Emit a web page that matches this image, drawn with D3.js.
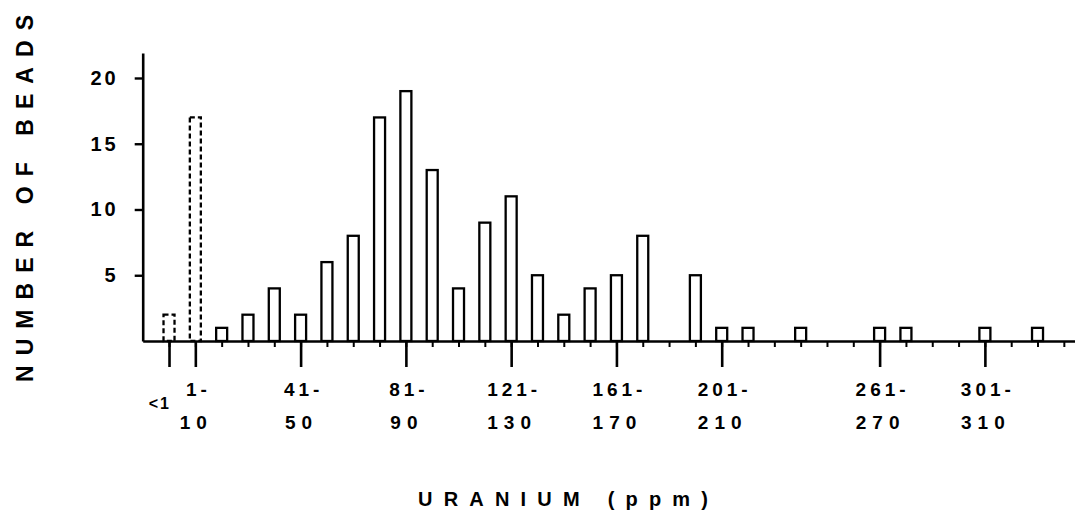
<!doctype html>
<html lang="en">
  <head>
    <meta charset="utf-8">
    <title>uranium beads</title>
    <style>
      body {
        margin: 0;
        background: #fff;
      }

      .axis {
        font-family: "Liberation Sans", Arial, sans-serif;
        font-weight: bold;
      }

      .axis path,
      .axis line {
        fill: none;
        stroke: #000;
      }

      .axis path.domain {
        stroke-width: 2.6;
      }

      .axis--x .tick line {
        stroke-width: 2;
      }

      .axis--major .tick line {
        stroke-width: 2.6;
      }

      .axis--y .tick line {
        stroke-width: 2.4;
      }

      .axis--y text {
        font-size: 20px;
        letter-spacing: 3px;
      }

      .bar {
        fill: #fff;
        stroke: #000;
        stroke-width: 2.3;
      }

      .bar--dashed {
        stroke-dasharray: 5, 3;
      }

      .lbl {
        font-family: "Liberation Sans", Arial, sans-serif;
        font-weight: bold;
        font-size: 19px;
        fill: #000;
      }

      .title {
        font-family: "Liberation Sans", Arial, sans-serif;
        font-weight: bold;
        fill: #000;
      }
    </style>
  </head>
  <body>
    <div class="chart"></div>
  <script src="https://d3js.org/d3.v7.min.js"></script>
  <script>
    // bins of uranium content (ppm)
    const bins = ['<1', '1-10', '11-20', '21-30', '31-40', '41-50', '51-60', '61-70', '71-80',
      '81-90', '91-100', '101-110', '111-120', '121-130', '131-140', '141-150', '151-160',
      '161-170', '171-180', '181-190', '191-200', '201-210', '211-220', '221-230', '231-240',
      '241-250', '251-260', '261-270', '271-280', '281-290', '291-300', '301-310', '311-320',
      '321-330', '331-340'];

    // number of beads in each bin
    const counts = [2, 17, 1, 2, 4, 2, 6, 8, 17, 19, 13, 4, 9, 11, 5, 2, 4, 5, 8, 0, 5,
      1, 1, 0, 1, 0, 0, 1, 1, 0, 0, 1, 0, 1, 0];

    // bins drawn dashed
    const dashedBins = ['<1', '1-10'];

    // labelled bins and their two-line labels
    const labelledBins = ['1-10', '41-50', '81-90', '121-130', '161-170', '201-210', '261-270', '301-310'];
    const labelTop = ['1-', '41-', '81-', '121-', '161-', '201-', '261-', '301-'];
    const labelBottom = ['10', '50', '90', '130', '170', '210', '270', '310'];

    const yTicks = [5, 10, 15, 20];

    const width = 1075;
    const height = 521;

    const data = bins.map((b, i) => ({bin: b, idx: i, value: counts[i]}));

    const xScale = d3.scaleLinear()
        .domain([-1, 34.5])
        .range([142.7, 1077]);

    const yScale = d3.scaleLinear()
        .domain([0, 21.9])
        .range([341, 53]);

    const svg = d3.select('.chart').append('svg')
        .attr('width', width)
        .attr('height', height);

    function drawBars(el) {
      el.append('g')
          .attr('class', 'bars-g')
        .selectAll('.bar')
        .data(data.filter(d => d.value > 0))
        .enter()
        .append('rect')
          .attr('class', d => dashedBins.includes(d.bin) ? 'bar bar--dashed' : 'bar')
          .attr('x', d => xScale(d.idx) - 5.5)
          .attr('width', 11)
          .attr('y', d => yScale(d.value))
          .attr('height', d => yScale(0) - yScale(d.value));
    }

    function drawXAxis(el) {
      // minor ticks at every bin
      el.append('g')
          .attr('class', 'axis axis--x')
          .attr('transform', `translate(0,${yScale(0)})`)
          .call(d3.axisBottom(xScale)
            .tickValues(data.map(d => d.idx))
            .tickSize(6)
            .tickSizeOuter(0)
            .tickFormat(''));

      // long ticks for labelled bins
      const majors = [0].concat(labelledBins.map(b => bins.indexOf(b)));
      const major = el.append('g')
          .attr('class', 'axis axis--x axis--major')
          .attr('transform', `translate(0,${yScale(0)})`)
          .call(d3.axisBottom(xScale)
            .tickValues(majors)
            .tickSize(26)
            .tickSizeOuter(0)
            .tickFormat(''));
      major.select('.domain').remove();

      const labels = el.append('g');
      labels.selectAll('.lbl-top')
        .data(labelledBins)
        .enter()
        .append('text')
          .attr('class', 'lbl lbl-top')
          .attr('x', b => xScale(bins.indexOf(b)) + 3)
          .attr('y', 396)
          .attr('text-anchor', 'middle')
          .style('letter-spacing', '4px')
          .text((b, i) => labelTop[i]);

      labels.selectAll('.lbl-bottom')
        .data(labelledBins)
        .enter()
        .append('text')
          .attr('class', 'lbl lbl-bottom')
          .attr('x', b => xScale(bins.indexOf(b)) + 1)
          .attr('y', 429)
          .attr('text-anchor', 'middle')
          .style('letter-spacing', '6px')
          .text((b, i) => labelBottom[i]);

      labels.append('text')
          .attr('class', 'lbl')
          .attr('x', xScale(0) + 2)
          .attr('y', 409)
          .attr('text-anchor', 'end')
          .style('font-size', '16px')
          .style('letter-spacing', '2px')
          .text(bins[0]);
    }

    function drawYAxis(el) {
      const axis = el.append('g')
          .attr('class', 'axis axis--y')
          .attr('transform', `translate(${xScale(-1)},0)`)
          .call(d3.axisLeft(yScale)
            .tickValues(yTicks)
            .tickSize(8)
            .tickSizeOuter(0)
            .tickPadding(16));
      axis.selectAll('text').attr('fill', '#000');
    }

    function drawTitles(el) {
      el.append('text')
          .attr('class', 'title')
          .attr('x', 418)
          .attr('y', 506)
          .attr('textLength', 290)
          .attr('lengthAdjust', 'spacing')
          .style('font-size', '20px')
          .text('URANIUM  (ppm)');

      el.append('text')
          .attr('class', 'title')
          .attr('transform', 'translate(33,382) rotate(-90)')
          .attr('textLength', 367)
          .attr('lengthAdjust', 'spacing')
          .style('font-size', '23px')
          .text('NUMBER  OF  BEADS');
    }

    drawBars(svg);
    drawXAxis(svg);
    drawYAxis(svg);
    drawTitles(svg);
  </script>
  </body>
</html>
